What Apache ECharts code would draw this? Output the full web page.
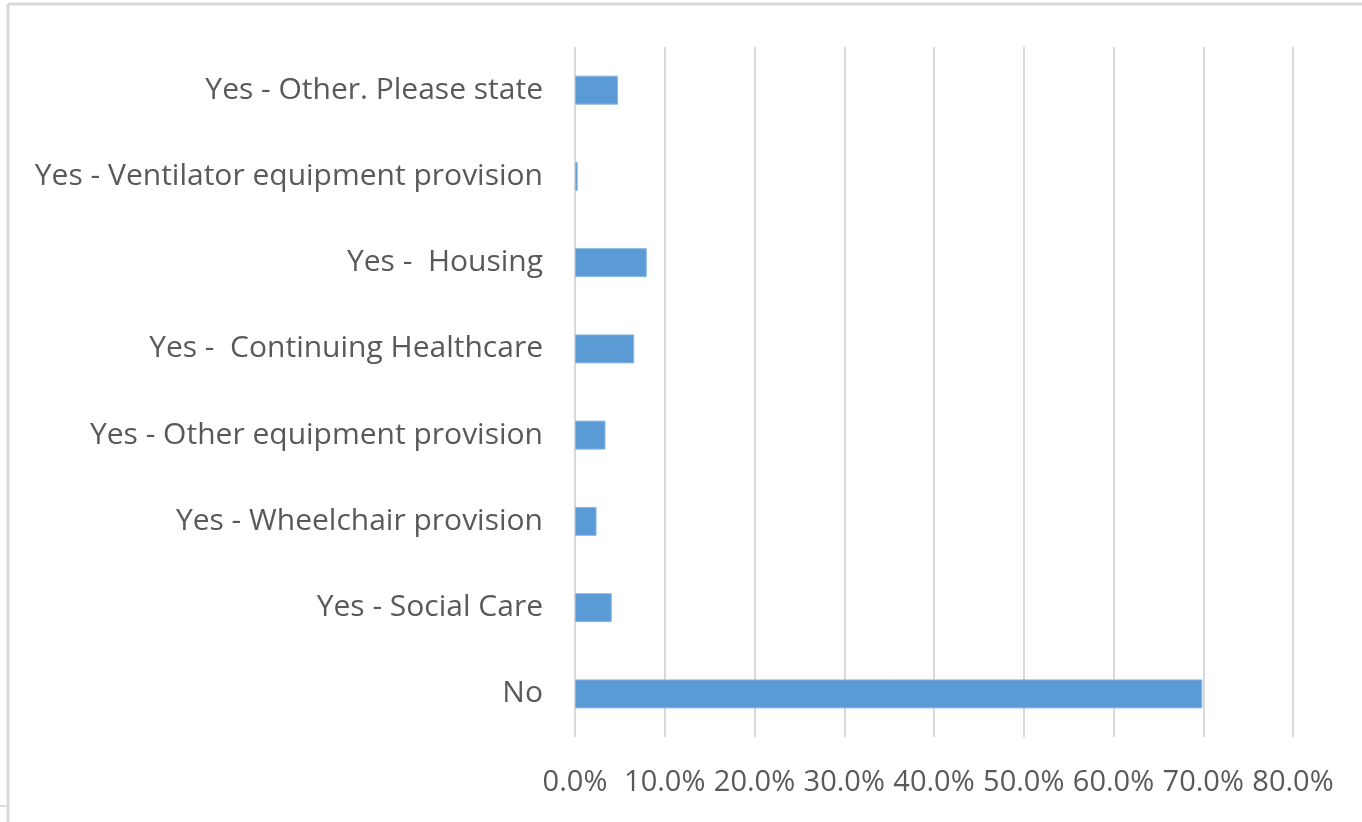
<!DOCTYPE html>
<html>
<head>
<meta charset="utf-8">
<script src="https://cdn.jsdelivr.net/npm/echarts@6/dist/echarts.min.js"></script>
<style>
html,body{margin:0;padding:0;background:#fff;}
#c{width:1362px;height:822px;}
</style>
</head>
<body>
<div id="c"></div>
<script>
const categories = [
  "No",
  "Yes - Social Care",
  "Yes - Wheelchair provision",
  "Yes - Other equipment provision",
  "Yes -  Continuing Healthcare",
  "Yes -  Housing",
  "Yes - Ventilator equipment provision",
  "Yes - Other. Please state"
];
const values = [69.9, 4.1, 2.4, 3.4, 6.6, 8.0, 0.3, 4.8];
const xTicks = { min: 0, max: 80, interval: 10 };

const chart = echarts.init(document.getElementById('c'), null, { renderer: 'canvas' });
const FONT = '"Open Sans", sans-serif';
chart.setOption({
  animation: false,
  backgroundColor: '#ffffff',
  grid: { left: 575, right: 69, top: 47, bottom: 85, containLabel: false },
  xAxis: {
    type: 'value',
    min: xTicks.min, max: xTicks.max, interval: xTicks.interval,
    axisLine: { show: false },
    axisTick: { show: false },
    splitLine: { show: true, lineStyle: { color: '#d9d9d9', width: 2 } },
    axisLabel: {
      color: '#595959', fontSize: 29, fontFamily: FONT, margin: 31,
      formatter: v => v.toFixed(1) + '%'
    }
  },
  yAxis: {
    type: 'category',
    data: categories,
    axisLine: { show: false },
    axisTick: { show: false },
    axisLabel: { color: '#595959', fontSize: 30, fontFamily: FONT, margin: 32, padding: [4, 0, 0, 0] }
  },
  series: [{
    type: 'bar',
    data: values,
    barWidth: 29,
    itemStyle: { color: '#5b9bd5', borderColor: '#8cb8e3', borderWidth: 1 }
  }],
  graphic: [
    { type: 'line', shape: { x1: 8, y1: 4, x2: 1362, y2: 4 }, style: { stroke: '#d9d9d9', lineWidth: 3 } },
    { type: 'line', shape: { x1: 8, y1: 4, x2: 8, y2: 822 }, style: { stroke: '#d9d9d9', lineWidth: 3 } },
    { type: 'line', shape: { x1: 0, y1: 806, x2: 8, y2: 806 }, style: { stroke: '#d9d9d9', lineWidth: 2 } }
  ]
});
</script>
</body>
</html>
